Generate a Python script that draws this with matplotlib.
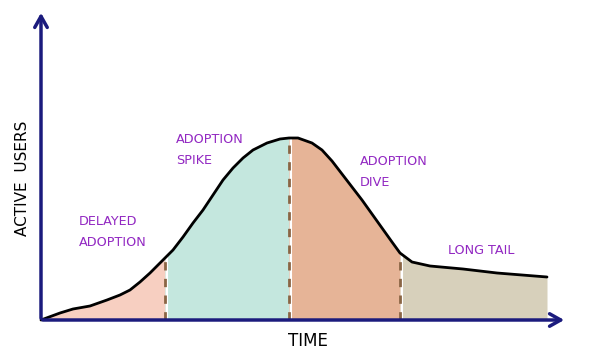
import matplotlib
matplotlib.use("Agg")
import matplotlib.pyplot as plt
import numpy as np

# Data: time (x) and active users (y)
time = [0, 19, 32, 49, 66, 79, 89, 99, 109, 119, 124, 132, 142, 152, 162, 172, 182, 192, 202, 212, 226, 239,
        248, 257, 271, 281, 291, 301, 311, 321, 331, 341, 351, 359, 371, 389, 422, 456, 506]
users = [0, 7, 11, 14, 20, 25, 30, 38, 47, 57, 62, 70, 83, 97, 110, 125, 140, 152, 162, 170, 177, 181,
         182, 182, 177, 170, 159, 146, 133, 120, 106, 92, 78, 67, 58, 54, 51, 47, 43]
boundaries = [124, 248, 359]
phase_colors = ["#f7cfc1", "#c4e7de", "#e6b497", "#d7d0bb"]
phase_labels = ["DELAYED\nADOPTION", "ADOPTION\nSPIKE", "ADOPTION\nDIVE", "LONG TAIL"]
label_pos = [(38, 88), (135, 170), (319, 148), (407, 70)]

t = np.array(time, dtype=float)
u = np.array(users, dtype=float)

fig = plt.figure(figsize=(6.0, 3.58), dpi=100)
ax = fig.add_axes([0, 0, 1, 1])
ax.set_xlim(-41, 559)
ax.set_ylim(-38, 320)
ax.axis("off")

edges = [t[0]] + boundaries + [t[-1]]
for i in range(4):
    lo, hi = edges[i], edges[i + 1]
    m = (t >= lo) & (t <= hi)
    ax.fill_between(t[m], 0, u[m], color=phase_colors[i], lw=0, zorder=1)

ax.plot(t, u, color="black", lw=2, solid_capstyle="round", solid_joinstyle="round", zorder=3)

for b in boundaries:
    yb = np.interp(b, t, u)
    ax.plot([b + 1.5, b + 1.5], [0, yb], color="white", lw=1.5, zorder=2)
    ax.plot([b, b], [0, yb], color="#8a6544", lw=2, ls=(0, (3, 3)), zorder=2.5)

navy = "#1b1b7d"
ax.annotate("", xy=(526, 0), xytext=(-1, 0),
            arrowprops=dict(arrowstyle="->,head_length=0.8,head_width=0.45", color=navy, lw=2.5))
ax.annotate("", xy=(0, 310), xytext=(0, -1),
            arrowprops=dict(arrowstyle="->,head_length=0.8,head_width=0.45", color=navy, lw=2.5))

purple = "#9228c2"
for lab, (x, y) in zip(phase_labels, label_pos):
    ax.text(x, y, lab, color=purple, fontsize=9.2, family="DejaVu Sans", ha="left", va="center",
            linespacing=1.75, multialignment="left")

ax.text(-19, 142, "ACTIVE  USERS", rotation=90, ha="center", va="center", fontsize=11, family="DejaVu Sans",
        color="black")
ax.text(267, -21, "TIME", ha="center", va="center", fontsize=12, family="DejaVu Sans", color="black")

fig.savefig("out.png", dpi=100)
